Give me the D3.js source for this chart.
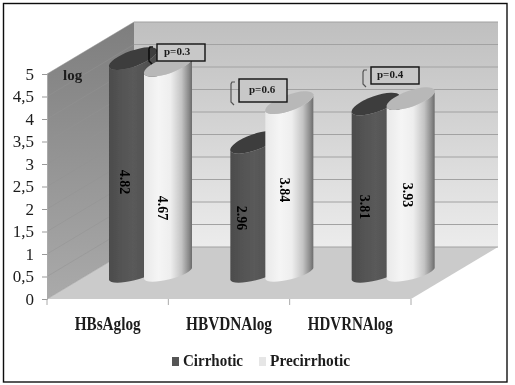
<!DOCTYPE html>
<html><head><meta charset="utf-8">
<script src="https://cdn.jsdelivr.net/npm/d3@7"></script>
<style>html,body{margin:0;padding:0;background:#fff}svg{display:block}text{font-family:"Liberation Serif",serif;fill:#1c1c1c}</style>
</head><body><svg id="c" width="515" height="385"></svg>
<script>
const categories = ["HBsAglog","HBVDNAlog","HDVRNAlog"];
const seriesNames = ["Cirrhotic","Precirrhotic"];
const cirrhotic = [4.82,2.96,3.81];
const precirrhotic = [4.67,3.84,3.93];
const tickValues = [0,0.5,1,1.5,2,2.5,3,3.5,4,4.5,5];
const pLabels = ["p=0.3","p=0.6","p=0.4"];

const svg = d3.select("#c");
const defs = svg.append("defs");
function grad(id,x2,y2,stops){
  const g=defs.append("linearGradient").attr("id",id).attr("x1",0).attr("y1",0).attr("x2",x2).attr("y2",y2);
  stops.forEach(s=>g.append("stop").attr("offset",s[0]).attr("stop-color",s[1]));
}
grad("back",0,1,[[0,"#bfbfbf"],[1,"#ececec"]]);
grad("left",0,1,[[0,"#7e7e7e"],[1,"#aaaaaa"]]);
grad("g0",1,0,[[0,"#4c4c4c"],[.5,"#5a5a5a"],[1,"#4a4a4a"]]);
grad("g1",1,0,[[0,"#e9e9e9"],[.3,"#f5f5f5"],[.55,"#eeeeee"],[.78,"#c4c4c4"],[.93,"#8a8a8a"],[1,"#6a6a6a"]]);
defs.append("filter").attr("id","soft").append("feGaussianBlur").attr("stdDeviation",0.45);

const root = svg.append("g").attr("filter","url(#soft)");
const y = d3.scaleLinear().domain([0,5]).range([299,74]);
const x = d3.scaleBand().domain(categories).range([47,411]);
const dx=87, dy=-52;
const x0=x.range()[0], x1=x.range()[1], y0=y(0), yT=y(5);

root.append("polygon").attr("points",[[x0+dx,yT+dy],[x1+dx,yT+dy],[x1+dx,y0+dy],[x0+dx,y0+dy]].join(" ")).attr("fill","url(#back)");
root.append("polygon").attr("points",[[x0,yT],[x0+dx,yT+dy],[x0+dx,y0+dy],[x0,y0]].join(" ")).attr("fill","url(#left)");
root.append("polygon").attr("points",[[x0,y0],[x1,y0],[x1+dx,y0+dy],[x0+dx,y0+dy]].join(" ")).attr("fill","#cbcbcb");
root.selectAll("line.g").data(tickValues).join("line").attr("class","g")
  .attr("x1",x0+dx).attr("x2",x1+dx).attr("y1",d=>y(d)+dy).attr("y2",d=>y(d)+dy)
  .attr("stroke","#a2a2a2").attr("stroke-width",1.2);
root.selectAll("polyline.l").data(tickValues).join("polyline").attr("class","l")
  .attr("points",d=>[[x0,y(d)],[x0+dx,y(d)+dy]].join(" ")).attr("fill","none")
  .attr("stroke","#939393").attr("stroke-width",.5);

const W=48, SL=17, RY=8, BRY=6.5, LIFT=15, BASE_LIFT=20, BASE_SL=12;
const RX=Math.hypot(W,SL)/2, ROT=-Math.atan2(SL,W)*180/Math.PI;
const BRX=Math.hypot(W,BASE_SL)/2, BROT=-Math.atan2(BASE_SL,W)*180/Math.PI;
const offs=[62,97];
[cirrhotic,precirrhotic].forEach((vals,s)=>{
  vals.forEach((v,i)=>{
    const bx=x(categories[i])+offs[s], base=y(0)-BASE_LIFT+(s?0:1), top=y(v)-LIFT;
    const g=root.append("g");
    g.append("path").attr("fill",`url(#g${s})`)
     .attr("d",`M${bx},${top}L${bx},${base}A${BRX},${BRY} ${BROT} 0 0 ${bx+W},${base-BASE_SL}L${bx+W},${top-SL}A${RX},${RY} ${ROT} 0 1 ${bx},${top}Z`);
    g.append("ellipse").attr("cx",0).attr("cy",0).attr("rx",RX).attr("ry",RY)
     .attr("transform",`translate(${bx+W/2},${top-SL/2}) rotate(${ROT})`)
     .attr("fill",s?"#b8b8b8":"#3e3e3e");
  });
});

const valueLabelPos=[[[125,182],[242,218],[365,207]],[[163,208],[285,190],[408,195]]];
[cirrhotic,precirrhotic].forEach((vals,s)=>vals.forEach((v,i)=>{
  const p=valueLabelPos[s][i];
  root.append("text").attr("transform",`translate(${p[0]},${p[1]}) rotate(90)`)
   .attr("text-anchor","middle").attr("dy","0.35em").attr("font-size",14).attr("font-weight","bold")
   .attr("style","fill:#000").text(v.toFixed(2));
}));

const yAxis=root.append("g").attr("transform",`translate(${x0},0)`)
  .call(d3.axisLeft(y).tickValues(tickValues).tickSize(5).tickPadding(8).tickFormat(d=>String(d).replace(".",",")));
yAxis.select(".domain").attr("stroke","#aaa");
yAxis.selectAll(".tick line").attr("stroke","#999");
yAxis.selectAll("text").attr("font-size",17).attr("font-family","Liberation Serif");

const xAxis=root.append("g").attr("transform",`translate(0,${y0})`)
  .call(d3.axisBottom(x).tickSize(0).tickPadding(18));
xAxis.select(".domain").remove();
xAxis.selectAll("text").attr("font-size",18.5).attr("font-weight","bold").attr("font-family","Liberation Serif")
  .attr("textLength",(d,i)=>[66,86,85][i]).attr("lengthAdjust","spacingAndGlyphs");
root.selectAll("line.xt").data([...categories.map(c=>x(c)),x1]).join("line").attr("class","xt")
  .attr("x1",d=>d).attr("x2",d=>d).attr("y1",y0).attr("y2",y0+6).attr("stroke","#aaa");

root.append("text").attr("x",63).attr("y",80).attr("font-size",15).attr("font-weight","bold").text("log");

const boxes=[[157,44,48,17,164,55],[239,79,48,23,249,93],[371,67,48,17,377,78]];
pLabels.forEach((t,i)=>{
  const b=boxes[i];
  root.append("rect").attr("x",b[0]).attr("y",b[1]).attr("width",b[2]).attr("height",b[3])
    .attr("fill","#c8c8c8").attr("stroke","#111").attr("stroke-width",1.4);
  root.append("text").attr("x",b[4]).attr("y",b[5]).attr("font-size",11).attr("font-weight","bold").text(t);
  const bx=b[0]-8, by=b[1]+3, h=b[3];
  root.append("path").attr("d",`M${bx+4},${by}L${bx+1},${by}L${bx},${by+2}L${bx},${by+h-3}L${bx+3},${by+h}`)
    .attr("fill","none").attr("stroke",i?"#555":"#111").attr("stroke-width",i?1.2:1.6);
});

const legendX=[[172,183],[259,270]];
const legendLen=[60,80];
seriesNames.forEach((n,i)=>{
  root.append("rect").attr("x",legendX[i][0]).attr("y",357).attr("width",7).attr("height",9).attr("fill",i?"#e6e6e6":"#555");
  root.append("text").attr("x",legendX[i][1]).attr("y",366).attr("font-size",16).attr("font-weight","bold")
    .attr("textLength",legendLen[i]).attr("lengthAdjust","spacingAndGlyphs").text(n);
});

root.append("rect").attr("x",3.5).attr("y",3.5).attr("width",503.5).attr("height",378.5).attr("fill","none").attr("stroke","#111").attr("stroke-width",1.4);
</script></body></html>
